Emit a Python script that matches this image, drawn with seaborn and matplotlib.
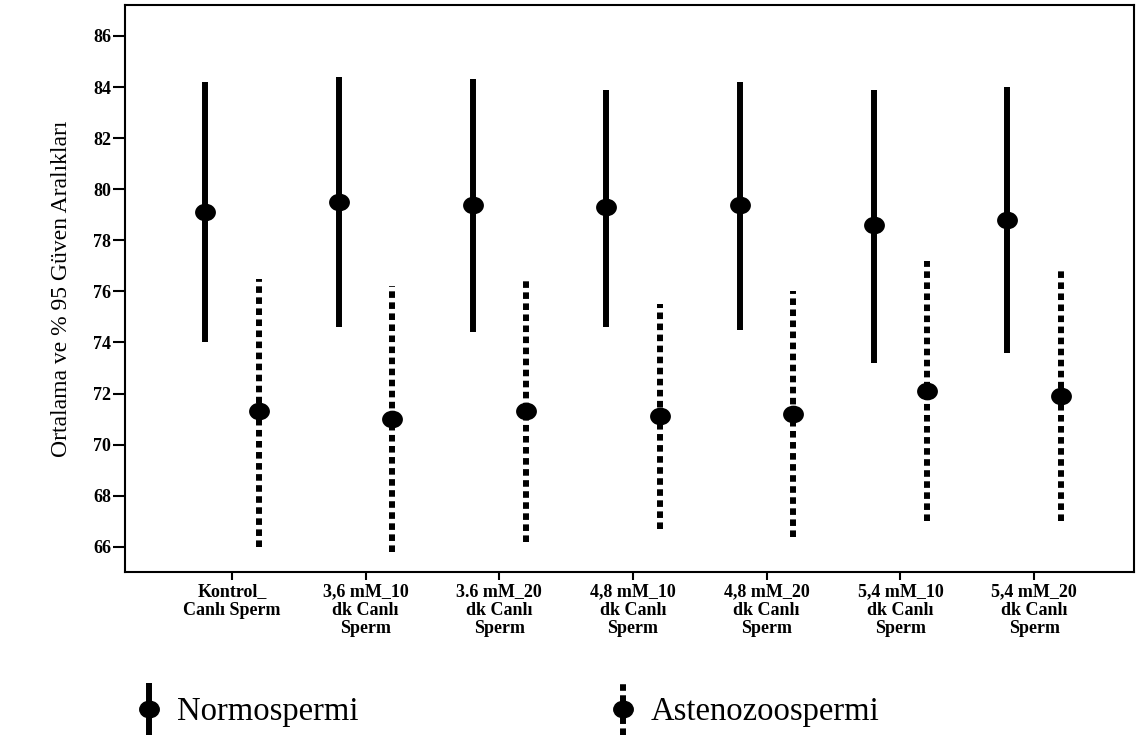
import numpy as np
import pandas as pd
import matplotlib
matplotlib.use("Agg")
import matplotlib.pyplot as plt
import matplotlib.path as mpath
from matplotlib.markers import MarkerStyle
from matplotlib.transforms import Affine2D
from matplotlib.container import ErrorbarContainer
from matplotlib.legend_handler import HandlerErrorbar
import seaborn as sns

### ortalama ve %95 guven araliklari (normospermi / astenozoospermi)

kategoriler = ["Kontrol_\nCanlı Sperm", "3,6 mM_10\ndk Canlı\nSperm",
               "3.6 mM_20\ndk Canlı\nSperm", "4,8 mM_10\ndk Canlı\nSperm",
               "4,8 mM_20\ndk Canlı\nSperm", "5,4 mM_10\ndk Canlı\nSperm",
               "5,4 mM_20\ndk Canlı\nSperm"]
gruplar = ["Normospermi", "Astenozoospermi"]

normo_alt = [74.0, 74.6, 74.4, 74.6, 74.5, 73.2, 73.6]
normo_ort = [79.1, 79.5, 79.4, 79.3, 79.4, 78.6, 78.8]
normo_ust = [84.2, 84.4, 84.3, 83.9, 84.2, 83.9, 84.0]

asteno_alt = [66.0, 65.8, 66.2, 66.7, 66.4, 67.0, 67.0]
asteno_ort = [71.3, 71.0, 71.3, 71.1, 71.2, 72.1, 71.9]
asteno_ust = [76.5, 76.2, 76.4, 75.5, 76.0, 77.2, 76.9]

y_ticks = list(range(66, 87, 2))

# long table: alt / ortalama / ust per hucre -> median = ortalama, pi(100) = aralik
rows = []
for grup, alt, ort, ust in [(gruplar[0], normo_alt, normo_ort, normo_ust),
                            (gruplar[1], asteno_alt, asteno_ort, asteno_ust)]:
    for kat, a, o, u in zip(kategoriler, alt, ort, ust):
        for v in (a, o, u):
            rows.append({"kategori": kat, "grup": grup, "deger": v})
df = pd.DataFrame(rows)

sns.set_style("ticks")
plt.rcParams['font.family'] = ['Liberation Serif', 'DejaVu Serif']
plt.rcParams['text.color'] = 'black'
plt.rcParams['axes.labelcolor'] = 'black'

fig = plt.figure(figsize=(11.47, 7.56), dpi=100)
ax = fig.add_subplot(111)
fig.subplots_adjust(left=0.109, right=0.989, top=0.993, bottom=0.243)

elips = MarkerStyle(mpath.Path.unit_circle().transformed(Affine2D().scale(1.0, 0.85)))
lw = 4.3
nokta = (0, (1.1, 0.75))

sns.pointplot(data=df, x="kategori", y="deger", hue="grup",
              order=kategoriler, hue_order=gruplar,
              estimator="median", errorbar=("pi", 100), dodge=0.4,
              palette=["black", "black"], markers=[elips, elips],
              linestyle="none", markersize=15, markeredgewidth=0,
              err_kws={"linewidth": lw, "solid_capstyle": "butt"},
              legend=False, ax=ax)

# asteno error bars (right of each tick) are dotted
for line in ax.lines:
    xd = np.asarray(line.get_xdata(), dtype=float)
    if len(xd) == 2 and xd[0] - np.round(xd[0]) > 0:
        line.set_linestyle(nokta)
        line.set_dash_capstyle("butt")

ax.set_xlim(-0.8, 6.75)
ax.set_ylim(65, 87.2)
ax.set_yticks(y_ticks)
ax.set_xlabel("")
ax.set_ylabel("Ortalama ve % 95 Güven Aralıkları", fontsize=17, labelpad=15)

for sp in ax.spines.values():
    sp.set_linewidth(1.5)
    sp.set_color("black")
ax.tick_params(axis="y", length=9, width=1.5, pad=1, labelsize=13, colors="black")
ax.tick_params(axis="x", length=6, width=1.5, pad=2, labelsize=13, colors="black")
for lab in ax.get_yticklabels() + ax.get_xticklabels():
    lab.set_fontweight("bold")
for lab in ax.get_xticklabels():
    lab.set_linespacing(1.1)

# legend handles (nan data, only for the key)
h1 = ax.errorbar([np.nan], [np.nan], yerr=[np.nan], ecolor="black",
                 elinewidth=lw, marker=elips, mfc="black", mec="black",
                 markersize=14, linestyle="none", label=gruplar[0])
h2 = ax.errorbar([np.nan], [np.nan], yerr=[np.nan], ecolor="black",
                 elinewidth=lw, marker=elips, mfc="black", mec="black",
                 markersize=14, linestyle="none", label=gruplar[1])
h2[2][0].set_linestyle(nokta)

fig.legend([h1, h2], gruplar, loc="center left", bbox_to_anchor=(0.09, 0.058),
           ncol=2, frameon=False, fontsize=23.5, handlelength=1.0,
           handletextpad=0.35, columnspacing=7.6,
           handler_map={ErrorbarContainer: HandlerErrorbar(yerr_size=0.8)})

fig.savefig("out.png", dpi=100)
